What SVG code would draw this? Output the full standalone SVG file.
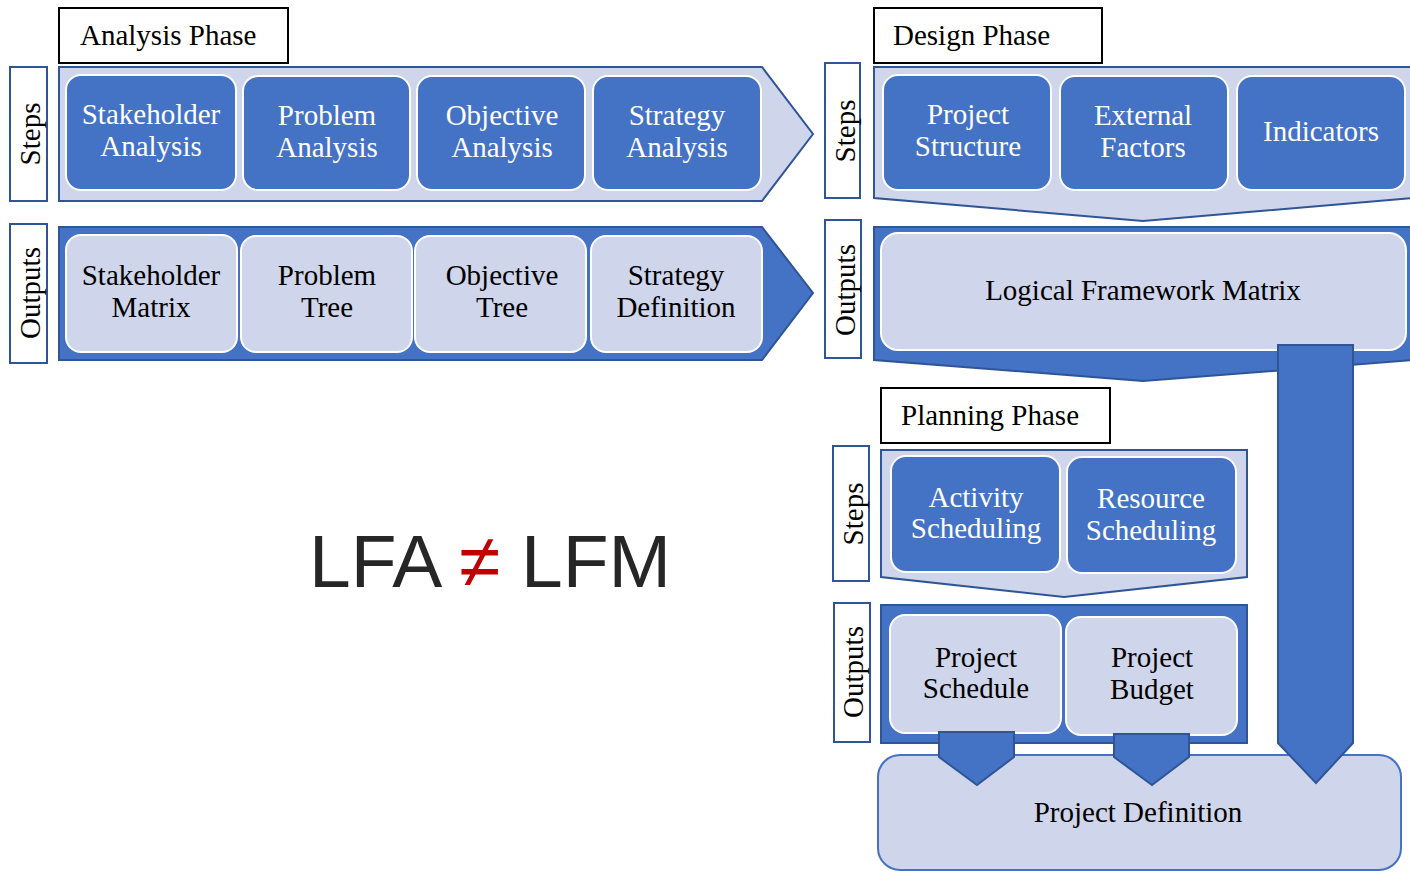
<svg xmlns="http://www.w3.org/2000/svg" width="1410" height="872" viewBox="0 0 1410 872">
<style>
.phase{fill:#fff;stroke:#000;stroke-width:2}
.side{fill:#fff;stroke:#2F5597;stroke-width:2}
.cl{fill:#CFD5EA;stroke:#2F5597;stroke-width:2}
.cd{fill:#4472C4;stroke:#2F5597;stroke-width:2}
.bd{fill:#4472C4;stroke:#fff;stroke-width:2}
.bl{fill:#CFD5EA;stroke:#fff;stroke-width:2}
.t{font-family:"Liberation Serif","Times New Roman",serif;font-size:29px;fill:#000}
.tw{font-family:"Liberation Serif","Times New Roman",serif;font-size:29px;fill:#fff;text-anchor:middle}
.tb{font-family:"Liberation Serif","Times New Roman",serif;font-size:29px;fill:#000;text-anchor:middle}
.arr{fill:#4472C4;stroke:#2F5597;stroke-width:2}
</style>
<rect width="1410" height="872" fill="#fff"/>

<!-- Analysis phase -->
<g id="analysis-label"><rect class="phase" x="59" y="8" width="229" height="55"/><text class="t" x="80" y="45">Analysis Phase</text></g>
<g id="analysis-steps-side"><rect class="side" x="10" y="67" width="37" height="134"/><text class="tb" transform="translate(40,134) rotate(-90)">Steps</text></g>
<g id="analysis-steps"><polygon class="cl" points="59,67 762,67 813,134 762,201 59,201"/></g>
<g id="stakeholder-analysis"><rect class="bd" x="66" y="75" width="170" height="115" rx="15"/><text class="tw" x="151" y="124">Stakeholder</text><text class="tw" x="151" y="156">Analysis</text></g>
<g id="problem-analysis"><rect class="bd" x="243" y="76" width="167" height="114" rx="15"/><text class="tw" x="327" y="125">Problem</text><text class="tw" x="327" y="157">Analysis</text></g>
<g id="objective-analysis"><rect class="bd" x="417" y="76" width="168" height="114" rx="15"/><text class="tw" x="502" y="125">Objective</text><text class="tw" x="502" y="157">Analysis</text></g>
<g id="strategy-analysis"><rect class="bd" x="593" y="76" width="168" height="114" rx="15"/><text class="tw" x="677" y="125">Strategy</text><text class="tw" x="677" y="157">Analysis</text></g>

<g id="analysis-outputs-side"><rect class="side" x="10" y="224" width="37" height="139"/><text class="tb" transform="translate(40,293) rotate(-90)">Outputs</text></g>
<g id="analysis-outputs"><polygon class="cd" points="59,227 762,227 813,293 762,360 59,360"/></g>
<g id="stakeholder-matrix"><rect class="bl" x="66" y="235" width="171" height="117" rx="15"/><text class="tb" x="151" y="285">Stakeholder</text><text class="tb" x="151" y="317">Matrix</text></g>
<g id="problem-tree"><rect class="bl" x="241" y="236" width="171" height="116" rx="15"/><text class="tb" x="327" y="285">Problem</text><text class="tb" x="327" y="317">Tree</text></g>
<g id="objective-tree"><rect class="bl" x="415" y="236" width="171" height="116" rx="15"/><text class="tb" x="502" y="285">Objective</text><text class="tb" x="502" y="317">Tree</text></g>
<g id="strategy-definition"><rect class="bl" x="591" y="236" width="171" height="116" rx="15"/><text class="tb" x="676" y="285">Strategy</text><text class="tb" x="676" y="317">Definition</text></g>

<!-- Design phase -->
<g id="design-label"><rect class="phase" x="874" y="8" width="228" height="55"/><text class="t" x="893" y="45">Design Phase</text></g>
<g id="design-steps-side"><rect class="side" x="825" y="63" width="35" height="135"/><text class="tb" transform="translate(855,131) rotate(-90)">Steps</text></g>
<g id="design-steps"><polygon class="cl" points="874,67 1414,67 1414,198 1143,221 874,198"/></g>
<g id="project-structure"><rect class="bd" x="883" y="75" width="168" height="115" rx="15"/><text class="tw" x="968" y="124">Project</text><text class="tw" x="968" y="156">Structure</text></g>
<g id="external-factors"><rect class="bd" x="1060" y="76" width="168" height="114" rx="15"/><text class="tw" x="1143" y="125">External</text><text class="tw" x="1143" y="157">Factors</text></g>
<g id="indicators"><rect class="bd" x="1237" y="76" width="168" height="114" rx="15"/><text class="tw" x="1321" y="141">Indicators</text></g>

<g id="design-outputs-side"><rect class="side" x="825" y="220" width="36" height="138"/><text class="tb" transform="translate(855,290) rotate(-90)">Outputs</text></g>
<g id="design-outputs"><polygon class="cd" points="874,227 1414,227 1414,360 1143,381 874,360"/></g>
<g id="logical-framework-matrix"><rect class="bl" x="881" y="233" width="525" height="117" rx="17"/><text class="tb" x="1143" y="300">Logical Framework Matrix</text></g>

<!-- Planning phase -->
<g id="planning-label"><rect class="phase" x="881" y="388" width="229" height="55"/><text class="t" x="901" y="425">Planning Phase</text></g>
<g id="planning-steps-side"><rect class="side" x="833" y="446" width="36" height="135"/><text class="tb" transform="translate(863,514) rotate(-90)">Steps</text></g>
<g id="planning-steps"><polygon class="cl" points="881,450 1247,450 1247,577 1064,597 881,577"/></g>
<g id="activity-scheduling"><rect class="bd" x="891" y="456" width="169" height="116" rx="15"/><text class="tw" x="976" y="507">Activity</text><text class="tw" x="976" y="538">Scheduling</text></g>
<g id="resource-scheduling"><rect class="bd" x="1067" y="457" width="169" height="116" rx="15"/><text class="tw" x="1151" y="508">Resource</text><text class="tw" x="1151" y="540">Scheduling</text></g>

<g id="planning-outputs-side"><rect class="side" x="834" y="603" width="36" height="139"/><text class="tb" transform="translate(863,672) rotate(-90)">Outputs</text></g>
<g id="planning-outputs"><rect class="cd" x="881" y="605" width="366" height="138"/></g>
<g id="project-schedule"><rect class="bl" x="890" y="615" width="171" height="118" rx="15"/><text class="tb" x="976" y="667">Project</text><text class="tb" x="976" y="698">Schedule</text></g>
<g id="project-budget"><rect class="bl" x="1066" y="617" width="171" height="118" rx="15"/><text class="tb" x="1152" y="667">Project</text><text class="tb" x="1152" y="699">Budget</text></g>

<g id="project-definition"><rect x="878" y="755" width="523" height="115" rx="22" fill="#CFD5EA" stroke="#4472C4" stroke-width="2"/><text class="tb" x="1138" y="822">Project Definition</text></g>

<!-- connectors -->
<g id="connectors">
<polygon class="arr" points="939,732 1014,732 1014,757 977,785 939,757"/>
<polygon class="arr" points="1114,734 1189,734 1189,757 1152,785 1114,757"/>
<polygon class="arr" points="1278,345 1353,345 1353,743 1316,783 1278,743"/>
</g>

<g id="lfa-lfm"><text x="490" y="587" text-anchor="middle" font-family="'Liberation Sans',Arial,sans-serif" font-size="75" fill="#262626">LFA <tspan fill="#C00000">≠</tspan> LFM</text></g>
</svg>
